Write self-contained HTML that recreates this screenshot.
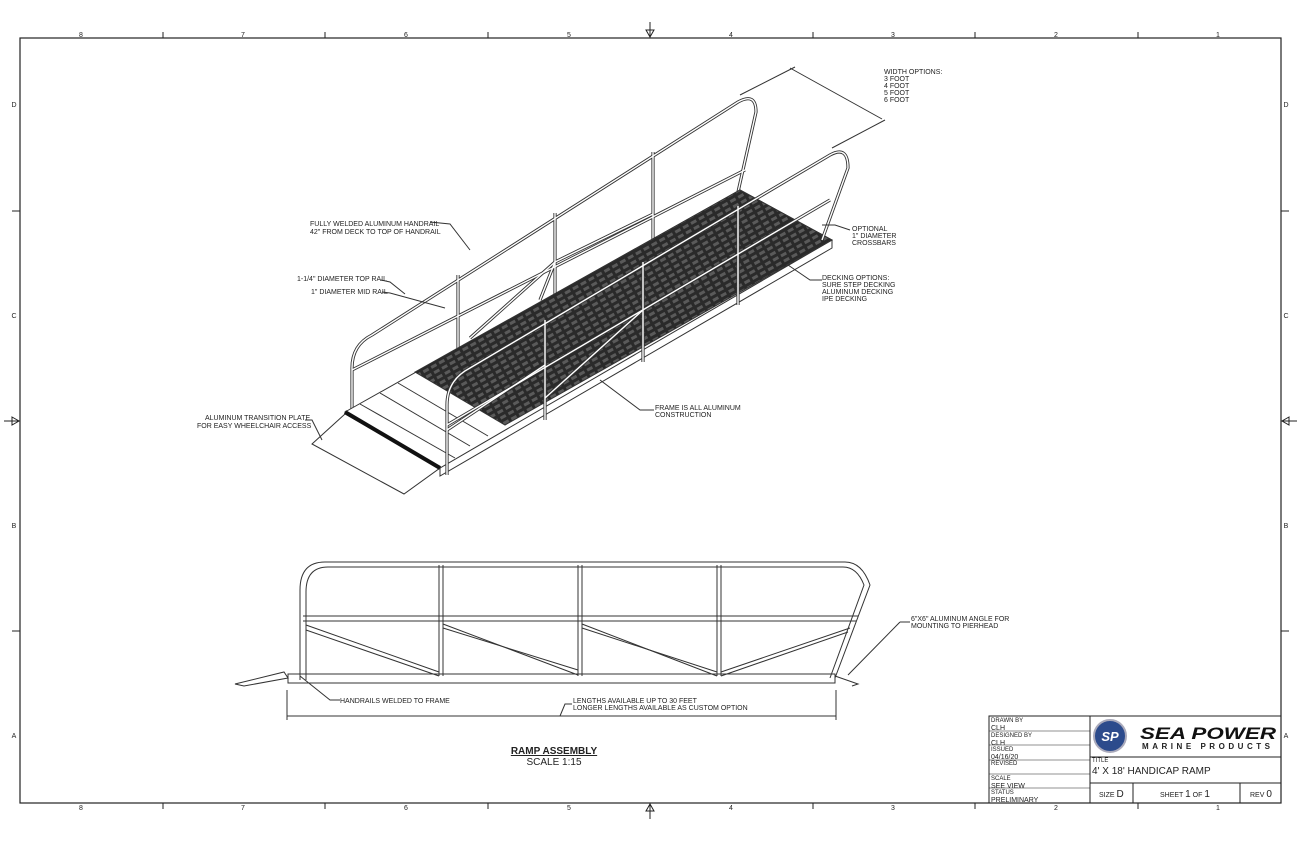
<!DOCTYPE html>
<html><head><meta charset="utf-8"><style>
html,body{margin:0;padding:0;background:#fff}
svg{display:block}
text{font-family:"Liberation Sans",sans-serif;fill:#222}
.s{font-size:7px}
</style></head><body>
<svg width="1300" height="841" viewBox="0 0 1300 841" xmlns="http://www.w3.org/2000/svg">
<defs>
<pattern id="dk" width="9" height="6" patternUnits="userSpaceOnUse" patternTransform="rotate(-29)">
<rect width="9" height="6" fill="#2a2a2a"/><rect x="1" y="1" width="6" height="3" fill="#5a5a5a"/>
</pattern>
<g id="farrail">
<path d="M352 412 L352 368 Q352 345 372 335 L738 102 Q756 92 756 112 L738 192"/>
<path d="M352 370 L745 170"/>
<line x1="458" y1="275" x2="458" y2="355"/><line x1="555" y1="213" x2="555" y2="306"/><line x1="653" y1="152" x2="653" y2="255"/>
<line x1="470" y1="338" x2="555" y2="262"/><line x1="555" y1="262" x2="653" y2="214"/><line x1="555" y1="262" x2="540" y2="300"/>
</g>
<g id="nearrail">
<path d="M447 475 L447 405 Q447 380 470 368 L830 155 Q848 145 848 168 L822 240"/>
<path d="M447 425 L830 200"/>
<line x1="545" y1="320" x2="545" y2="420"/><line x1="643" y1="262" x2="643" y2="362"/><line x1="738" y1="206" x2="738" y2="305"/>
<line x1="447" y1="430" x2="545" y2="365"/><line x1="643" y1="310" x2="545" y2="398"/>
</g>
</defs>
<rect x="20" y="38" width="1261" height="765" fill="none" stroke="#222" stroke-width="1.2"/>
<g stroke="#222" stroke-width="1">
<line x1="163" y1="32" x2="163" y2="38"/><line x1="325" y1="32" x2="325" y2="38"/><line x1="488" y1="32" x2="488" y2="38"/><line x1="813" y1="32" x2="813" y2="38"/><line x1="975" y1="32" x2="975" y2="38"/><line x1="1138" y1="32" x2="1138" y2="38"/>
<line x1="163" y1="803" x2="163" y2="809"/><line x1="325" y1="803" x2="325" y2="809"/><line x1="488" y1="803" x2="488" y2="809"/><line x1="813" y1="803" x2="813" y2="809"/><line x1="975" y1="803" x2="975" y2="809"/><line x1="1138" y1="803" x2="1138" y2="809"/>
<line x1="12" y1="211" x2="20" y2="211"/><line x1="12" y1="631" x2="20" y2="631"/>
<line x1="1281" y1="211" x2="1289" y2="211"/><line x1="1281" y1="631" x2="1289" y2="631"/>
<line x1="650" y1="22" x2="650" y2="38"/><line x1="650" y1="803" x2="650" y2="819"/>
<line x1="4" y1="421" x2="20" y2="421"/><line x1="1281" y1="421" x2="1297" y2="421"/>
</g>
<g fill="none" stroke="#222"><path d="M646 30 L650 37 L654 30 Z"/><path d="M646 811 L650 804 L654 811 Z"/><path d="M12 417 L19 421 L12 425 Z"/><path d="M1289 417 L1282 421 L1289 425 Z"/></g>
<g class="s" text-anchor="middle">
<text x="81" y="37">8</text><text x="243" y="37">7</text><text x="406" y="37">6</text><text x="569" y="37">5</text><text x="731" y="37">4</text><text x="893" y="37">3</text><text x="1056" y="37">2</text><text x="1218" y="37">1</text>
<text x="81" y="810">8</text><text x="243" y="810">7</text><text x="406" y="810">6</text><text x="569" y="810">5</text><text x="731" y="810">4</text><text x="893" y="810">3</text><text x="1056" y="810">2</text><text x="1218" y="810">1</text>
<text x="14" y="107">D</text><text x="14" y="318">C</text><text x="14" y="528">B</text><text x="14" y="738">A</text>
<text x="1286" y="107">D</text><text x="1286" y="318">C</text><text x="1286" y="528">B</text><text x="1286" y="738">A</text>
</g>

<g stroke="#333" stroke-width="1" fill="none">
<use href="#farrail" stroke="#333" stroke-width="3.2"/>
<use href="#farrail" stroke="#fff" stroke-width="1.4"/>
<path d="M312 444 L345 414 L440 468 L404 494 Z" fill="#fff"/>
<path d="M345 412 L740 190 L832 240 L440 468 Z" fill="#fff"/>
<path d="M415 372 L740 190 L832 240 L505 425 Z" fill="url(#dk)"/>
<line x1="345" y1="412" x2="440" y2="468" stroke-width="4" stroke="#111"/>
<path d="M440 468 L440 476 L832 248 L832 240"/>
<line x1="360" y1="404" x2="455" y2="458"/><line x1="380" y1="393" x2="470" y2="446"/><line x1="398" y1="383" x2="488" y2="436"/>
<use href="#nearrail" stroke="#333" stroke-width="3.2"/>
<use href="#nearrail" stroke="#fff" stroke-width="1.4"/>
<line x1="740" y1="95" x2="795" y2="67"/><line x1="832" y1="148" x2="885" y2="120"/><line x1="790" y1="68" x2="882" y2="119"/>
<path d="M430 222 L450 224 L470 250"/><path d="M381 280 L390 282 L405 294"/><path d="M382 292 L390 293 L445 308"/>
<path d="M305 420 L312 420 L322 440"/><path d="M600 380 L640 410 L654 410"/>
<path d="M822 225 L835 225 L850 230"/><path d="M788 265 L810 280 L822 280"/>
</g>
<g class="s">
<text x="884" y="74">WIDTH OPTIONS:</text><text x="884" y="81">3 FOOT</text><text x="884" y="88">4 FOOT</text><text x="884" y="95">5 FOOT</text><text x="884" y="102">6 FOOT</text>
<text x="310" y="226">FULLY WELDED ALUMINUM HANDRAIL</text><text x="310" y="234">42" FROM DECK TO TOP OF HANDRAIL</text>
<text x="297" y="281">1-1/4" DIAMETER TOP RAIL</text><text x="311" y="294">1" DIAMETER MID RAIL</text>
<text x="852" y="231">OPTIONAL</text><text x="852" y="238">1" DIAMETER</text><text x="852" y="245">CROSSBARS</text>
<text x="822" y="280">DECKING OPTIONS:</text><text x="822" y="287">SURE STEP DECKING</text><text x="822" y="294">ALUMINUM DECKING</text><text x="822" y="301">IPE DECKING</text>
<text x="655" y="410">FRAME IS ALL ALUMINUM</text><text x="655" y="417">CONSTRUCTION</text>
<text x="205" y="420">ALUMINUM TRANSITION PLATE</text><text x="197" y="428">FOR EASY WHEELCHAIR ACCESS</text>
</g>

<g fill="none" stroke="#333" stroke-width="1">
<path d="M300 680 L300 590 Q300 562 325 562 L845 562 Q862 562 870 585 L835 678"/>
<path d="M306 680 L306 592 Q306 567 328 567 L843 567 Q857 567 864 585 L830 678"/>
<line x1="303" y1="616" x2="858" y2="616"/><line x1="303" y1="621" x2="856" y2="621"/>
<line x1="439" y1="565" x2="439" y2="676"/><line x1="443" y1="565" x2="443" y2="676"/>
<line x1="578" y1="565" x2="578" y2="676"/><line x1="582" y1="565" x2="582" y2="676"/>
<line x1="717" y1="565" x2="717" y2="676"/><line x1="721" y1="565" x2="721" y2="676"/>
<path d="M306 625 L439 672 M443 628 L578 670 M582 628 L717 672 M721 672 L850 628"/>
<path d="M306 630 L439 676 M443 624 L578 675 M582 624 L717 676 M721 676 L848 632"/>
<rect x="288" y="674" width="547" height="9"/>
<path d="M235 684 L284 672 L288 678 L244 686 Z"/>
<path d="M835 676 L858 684 L852 686"/>
<line x1="848" y1="675" x2="900" y2="622"/><line x1="900" y1="622" x2="910" y2="622"/>
<path d="M300 676 L330 700 L340 700"/>
<line x1="287" y1="690" x2="287" y2="720"/><line x1="836" y1="690" x2="836" y2="720"/>
<line x1="287" y1="716" x2="836" y2="716"/>
<path d="M560 716 L565 704 L572 704"/>
</g>
<g class="s">
<text x="911" y="621">6"X6" ALUMINUM ANGLE FOR</text><text x="911" y="628">MOUNTING TO PIERHEAD</text>
<text x="340" y="703">HANDRAILS WELDED TO FRAME</text>
<text x="573" y="703">LENGTHS AVAILABLE UP TO 30 FEET</text><text x="573" y="710">LONGER LENGTHS AVAILABLE AS CUSTOM OPTION</text>
</g>
<text x="554" y="754" font-size="10" font-weight="bold" text-anchor="middle" text-decoration="underline">RAMP ASSEMBLY</text>
<text x="554" y="765" font-size="10" text-anchor="middle">SCALE 1:15</text>

<g fill="none" stroke="#222" stroke-width="1">
<rect x="989" y="716" width="292" height="87"/>
<line x1="1090" y1="716" x2="1090" y2="803"/>
<line x1="1090" y1="757" x2="1281" y2="757"/><line x1="1090" y1="783" x2="1281" y2="783"/>
<line x1="1133" y1="783" x2="1133" y2="803"/><line x1="1240" y1="783" x2="1240" y2="803"/>
<g stroke-width="0.6"><line x1="989" y1="731" x2="1090" y2="731"/><line x1="989" y1="745" x2="1090" y2="745"/><line x1="989" y1="760" x2="1090" y2="760"/><line x1="989" y1="774" x2="1090" y2="774"/><line x1="989" y1="788" x2="1090" y2="788"/></g>
</g>
<circle cx="1110" cy="736" r="16" fill="#2c4b8c" stroke="#aab" stroke-width="2"/>
<text x="1110" y="741" font-size="13" font-weight="bold" font-style="italic" text-anchor="middle" style="fill:#fff">SP</text>
<text x="1140" y="739" font-size="17" font-weight="bold" font-style="italic" textLength="136" lengthAdjust="spacingAndGlyphs" style="fill:#111">SEA POWER</text>
<text x="1142" y="749" font-size="8" font-weight="bold" textLength="128" lengthAdjust="spacing">MARINE PRODUCTS</text>
<g style="font-size:6px">
<text x="991" y="722">DRAWN BY</text><text x="991" y="730" font-size="7">CLH</text>
<text x="991" y="737">DESIGNED BY</text><text x="991" y="745" font-size="7">CLH</text>
<text x="991" y="751">ISSUED</text><text x="991" y="759" font-size="7">04/16/20</text>
<text x="991" y="765">REVISED</text>
<text x="991" y="780">SCALE</text><text x="991" y="788" font-size="7">SEE VIEW</text>
<text x="991" y="794">STATUS</text><text x="991" y="802" font-size="7">PRELIMINARY</text>
<text x="1092" y="762">TITLE</text>
</g>
<text x="1092" y="774" font-size="10">4' X 18' HANDICAP RAMP</text>
<text x="1099" y="797" font-size="7">SIZE <tspan font-size="10">D</tspan></text>
<text x="1160" y="797" font-size="7">SHEET <tspan font-size="10">1</tspan> OF <tspan font-size="10">1</tspan></text>
<text x="1250" y="797" font-size="7">REV <tspan font-size="10">0</tspan></text>
</svg>
</body></html>
